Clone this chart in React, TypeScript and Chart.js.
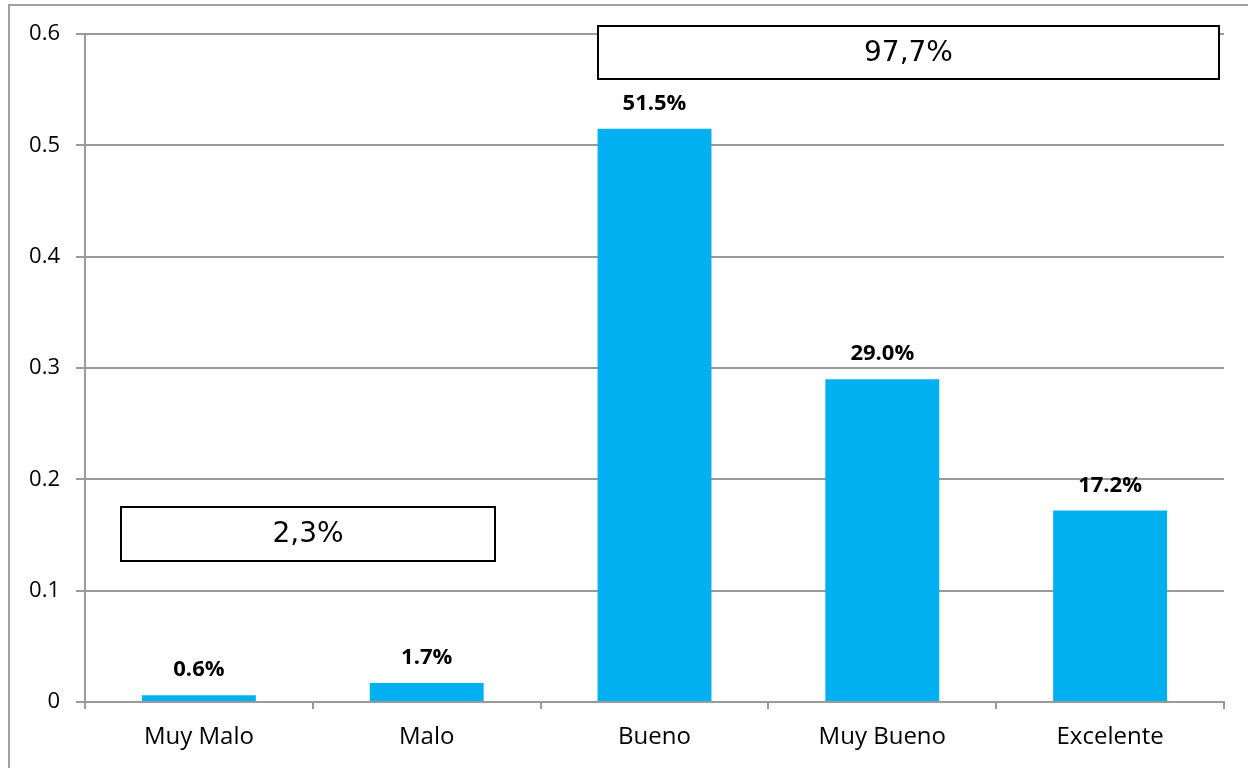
import React, { useEffect, useRef } from "react";
import { Chart, registerables } from "chart.js";

Chart.register(...registerables);

const categories = ["Muy Malo", "Malo", "Bueno", "Muy Bueno", "Excelente"];
const values = [0.006, 0.017, 0.515, 0.29, 0.172];
const yTickValues = [0, 0.1, 0.2, 0.3, 0.4, 0.5, 0.6];
const boxTexts = ["97,7%", "2,3%"];

const GRID = "#9a9a9a";
const BAR = "#00b0f0";
const FONT = "'Open Sans', sans-serif";

const labelsPlugin = {
  id: "customLabels",
  afterDatasetsDraw(chart: any, _args: any, opts: any) {
    const { ctx, scales } = chart;
    const meta = chart.getDatasetMeta(0);
    ctx.save();
    ctx.fillStyle = "#000";
    ctx.font = `bold 22px ${FONT}`;
    ctx.textAlign = "center";
    ctx.textBaseline = "alphabetic";
    meta.data.forEach((bar: any, i: number) => {
      const v = values[i];
      ctx.fillText((v * 100).toFixed(1) + "%", bar.x, bar.y - 19);
    });
    const xs = scales.x;
    const ys = scales.y;
    const catW = (xs.right - xs.left) / categories.length;
    const x0 = xs.getPixelForValue(0);
    (opts.boxes || []).forEach((b: any, i: number) => {
      const left = Math.round(x0 + b.x0 * catW);
      const right = Math.round(x0 + b.x1 * catW);
      const top = Math.round(ys.getPixelForValue(b.y1));
      const bottom = Math.round(ys.getPixelForValue(b.y0));
      ctx.fillStyle = "#fff";
      ctx.fillRect(left, top, right - left, bottom - top);
      ctx.strokeStyle = "#000";
      ctx.lineWidth = 2;
      ctx.strokeRect(left, top, right - left, bottom - top);
      ctx.fillStyle = "#000";
      ctx.font = `28px 'DejaVu Sans', sans-serif`;
      ctx.textAlign = "center";
      ctx.textBaseline = "middle";
      ctx.fillText(boxTexts[i], (left + right) / 2, (top + bottom) / 2 + 1);
    });
    ctx.restore();
  },
};

export default function App() {
  const ref = useRef<HTMLCanvasElement | null>(null);
  useEffect(() => {
    if (!ref.current) return;
    const chart = new Chart(ref.current, {
      type: "bar",
      data: {
        labels: categories,
        datasets: [
          {
            data: values,
            backgroundColor: BAR,
            borderWidth: 0,
            barPercentage: 0.5,
            categoryPercentage: 1,
          },
        ],
      },
      plugins: [labelsPlugin],
      options: {
        animation: false,
        responsive: false,
        maintainAspectRatio: false,
        layout: { padding: { left: 0, top: 34, right: 24, bottom: 0 } },
        plugins: {
          legend: { display: false },
          tooltip: { enabled: false },
          customLabels: {
            boxes: [
              { x0: 1.75, x1: 4.48, y0: 0.56, y1: 0.607 },
              { x0: -0.34, x1: 1.3, y0: 0.127, y1: 0.175 },
            ],
          },
        } as any,
        scales: {
          x: {
            grid: {
              display: true,
              drawOnChartArea: false,
              drawTicks: true,
              tickLength: 7,
              color: GRID,
              lineWidth: 2,
              offset: true,
            },
            border: { display: true, color: GRID, width: 2 },
            ticks: {
              color: "#000",
              font: { family: FONT, size: 24 },
              padding: 14,
            },
            afterFit(scale: any) {
              scale.height = 66;
            },
          },
          y: {
            min: 0,
            max: 0.6,
            afterBuildTicks(scale: any) {
              scale.ticks = yTickValues.map((v) => ({ value: v }));
            },
            grid: {
              color: GRID,
              lineWidth: 2,
              tickLength: 9,
              drawTicks: true,
            },
            border: { display: true, color: GRID, width: 2 },
            ticks: {
              color: "#000",
              font: { family: FONT, size: 22 },
              padding: 16,
              callback: (v: any) => String(Math.round(Number(v) * 10) / 10),
            },
            afterFit(scale: any) {
              scale.width = 85;
            },
          },
        },
      },
    });
    return () => chart.destroy();
  }, []);
  return (
    <div
      style={{
        position: "fixed",
        left: 0,
        top: 0,
        width: 1248,
        height: 768,
        overflow: "hidden",
        background: "#fff",
      }}
    >
      <div
        style={{
          position: "absolute",
          left: 8,
          top: 4,
          width: 1300,
          height: 800,
          border: "2px solid #a0a0a0",
          boxSizing: "border-box",
        }}
      />
      <canvas
        ref={ref}
        width={1248}
        height={768}
        style={{ position: "absolute", left: 0, top: 0, width: 1248, height: 768 }}
      />
    </div>
  );
}
